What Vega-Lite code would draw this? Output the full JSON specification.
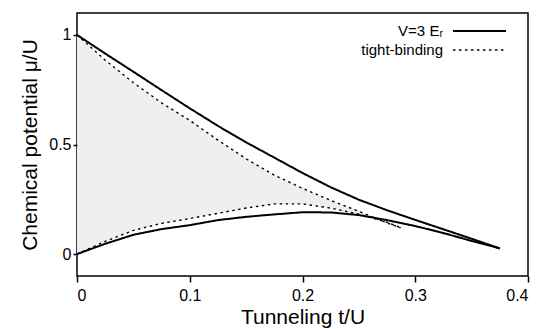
{
  "$schema": "https://vega.github.io/schema/vega-lite/v6.json",
  "width": 451,
  "height": 263,
  "autosize": {"type": "none"},
  "padding": {"left": 77, "top": 13, "right": 21, "bottom": 53},
  "background": "white",
  "config": {
    "font": "Liberation Sans",
    "view": {"stroke": "black", "strokeWidth": 1.5},
    "axis": {
      "grid": false,
      "domain": false,
      "labelColor": "black",
      "titleColor": "black",
      "labelFontSize": 16,
      "titleFontSize": 21,
      "titleFontWeight": "normal",
      "labelFont": "Liberation Sans",
      "titleFont": "Liberation Sans"
    },
    "legend": {
      "orient": "none",
      "legendX": 392.5,
      "legendY": 8,
      "labelFontSize": 15,
      "labelFont": "Liberation Sans",
      "labelColor": "black",
      "labelAlign": "right",
      "labelOffset": -46.5,
      "symbolType": "M-2.95,0H2.95",
      "symbolSize": 324,
      "symbolStrokeColor": "black",
      "symbolFillColor": "transparent",
      "rowPadding": 1,
      "padding": 0
    }
  },
  "datasets": {
    "lobe": [
      {"model": "V=3 E_R", "branch": "upper", "t": 0, "mu": 1},
      {"model": "V=3 E_R", "branch": "upper", "t": 0.025, "mu": 0.915},
      {"model": "V=3 E_R", "branch": "upper", "t": 0.05, "mu": 0.832},
      {"model": "V=3 E_R", "branch": "upper", "t": 0.075, "mu": 0.748},
      {"model": "V=3 E_R", "branch": "upper", "t": 0.1, "mu": 0.665},
      {"model": "V=3 E_R", "branch": "upper", "t": 0.125, "mu": 0.585},
      {"model": "V=3 E_R", "branch": "upper", "t": 0.15, "mu": 0.51},
      {"model": "V=3 E_R", "branch": "upper", "t": 0.175, "mu": 0.44},
      {"model": "V=3 E_R", "branch": "upper", "t": 0.2, "mu": 0.37},
      {"model": "V=3 E_R", "branch": "upper", "t": 0.225, "mu": 0.305},
      {"model": "V=3 E_R", "branch": "upper", "t": 0.25, "mu": 0.248},
      {"model": "V=3 E_R", "branch": "upper", "t": 0.275, "mu": 0.2},
      {"model": "V=3 E_R", "branch": "upper", "t": 0.3, "mu": 0.156},
      {"model": "V=3 E_R", "branch": "upper", "t": 0.325, "mu": 0.113},
      {"model": "V=3 E_R", "branch": "upper", "t": 0.35, "mu": 0.07},
      {"model": "V=3 E_R", "branch": "upper", "t": 0.375, "mu": 0.026},
      {"model": "V=3 E_R", "branch": "lower", "t": 0, "mu": 0},
      {"model": "V=3 E_R", "branch": "lower", "t": 0.025, "mu": 0.047},
      {"model": "V=3 E_R", "branch": "lower", "t": 0.05, "mu": 0.088},
      {"model": "V=3 E_R", "branch": "lower", "t": 0.075, "mu": 0.114},
      {"model": "V=3 E_R", "branch": "lower", "t": 0.1, "mu": 0.132},
      {"model": "V=3 E_R", "branch": "lower", "t": 0.125, "mu": 0.155},
      {"model": "V=3 E_R", "branch": "lower", "t": 0.15, "mu": 0.17},
      {"model": "V=3 E_R", "branch": "lower", "t": 0.175, "mu": 0.181},
      {"model": "V=3 E_R", "branch": "lower", "t": 0.2, "mu": 0.191},
      {"model": "V=3 E_R", "branch": "lower", "t": 0.225, "mu": 0.19},
      {"model": "V=3 E_R", "branch": "lower", "t": 0.25, "mu": 0.178},
      {"model": "V=3 E_R", "branch": "lower", "t": 0.275, "mu": 0.155},
      {"model": "V=3 E_R", "branch": "lower", "t": 0.3, "mu": 0.128},
      {"model": "V=3 E_R", "branch": "lower", "t": 0.325, "mu": 0.096},
      {"model": "V=3 E_R", "branch": "lower", "t": 0.35, "mu": 0.06},
      {"model": "V=3 E_R", "branch": "lower", "t": 0.375, "mu": 0.026},
      {"model": "tight-binding", "branch": "upper", "t": 0, "mu": 1},
      {"model": "tight-binding", "branch": "upper", "t": 0.025, "mu": 0.885},
      {"model": "tight-binding", "branch": "upper", "t": 0.05, "mu": 0.782},
      {"model": "tight-binding", "branch": "upper", "t": 0.075, "mu": 0.69},
      {"model": "tight-binding", "branch": "upper", "t": 0.1, "mu": 0.61},
      {"model": "tight-binding", "branch": "upper", "t": 0.125, "mu": 0.52},
      {"model": "tight-binding", "branch": "upper", "t": 0.15, "mu": 0.435},
      {"model": "tight-binding", "branch": "upper", "t": 0.175, "mu": 0.36},
      {"model": "tight-binding", "branch": "upper", "t": 0.2, "mu": 0.3},
      {"model": "tight-binding", "branch": "upper", "t": 0.225, "mu": 0.245},
      {"model": "tight-binding", "branch": "upper", "t": 0.25, "mu": 0.195},
      {"model": "tight-binding", "branch": "upper", "t": 0.275, "mu": 0.142},
      {"model": "tight-binding", "branch": "upper", "t": 0.287, "mu": 0.12},
      {"model": "tight-binding", "branch": "lower", "t": 0, "mu": 0},
      {"model": "tight-binding", "branch": "lower", "t": 0.025, "mu": 0.058},
      {"model": "tight-binding", "branch": "lower", "t": 0.05, "mu": 0.108},
      {"model": "tight-binding", "branch": "lower", "t": 0.075, "mu": 0.14},
      {"model": "tight-binding", "branch": "lower", "t": 0.1, "mu": 0.162},
      {"model": "tight-binding", "branch": "lower", "t": 0.125, "mu": 0.186},
      {"model": "tight-binding", "branch": "lower", "t": 0.15, "mu": 0.21},
      {"model": "tight-binding", "branch": "lower", "t": 0.175, "mu": 0.229},
      {"model": "tight-binding", "branch": "lower", "t": 0.2, "mu": 0.229},
      {"model": "tight-binding", "branch": "lower", "t": 0.225, "mu": 0.21},
      {"model": "tight-binding", "branch": "lower", "t": 0.25, "mu": 0.182},
      {"model": "tight-binding", "branch": "lower", "t": 0.275, "mu": 0.145},
      {"model": "tight-binding", "branch": "lower", "t": 0.287, "mu": 0.12}
    ]
  },
  "data": {"name": "lobe"},
  "layer": [
    {
      "transform": [
        {"filter": "datum.model === 'tight-binding'"},
        {"pivot": "branch", "value": "mu", "groupby": ["t"]}
      ],
      "mark": {"type": "area", "color": "#efefef"},
      "encoding": {
        "x": {"field": "t", "type": "quantitative", "scale": {"domain": [0, 0.4], "nice": false, "zero": false}, "axis": {"values": [0, 0.1, 0.2, 0.3, 0.4], "format": "~g", "title": "Tunneling t/U", "ticks": true, "tickSize": 6, "tickColor": "black", "tickWidth": 1.5, "labelPadding": 5, "titlePadding": 3, "zindex": 2}},
        "y": {"field": "lower", "type": "quantitative", "scale": {"domain": [-0.1, 1.1], "nice": false, "zero": false}, "axis": {"values": [0, 0.5, 1], "format": "~g", "title": "Chemical potential μ/U", "ticks": true, "tickSize": 4, "tickColor": "black", "tickWidth": 1.5, "labelPadding": 2, "titlePadding": 8, "zindex": 2}},
        "y2": {"field": "upper"}
      }
    },
    {
      "mark": {"type": "line", "color": "black"},
      "encoding": {
        "x": {"field": "t", "type": "quantitative", "scale": {"domain": [0, 0.4], "nice": false, "zero": false}, "axis": {"values": [0, 0.1, 0.2, 0.3, 0.4], "format": "~g", "title": "Tunneling t/U", "ticks": true, "tickSize": 6, "tickColor": "black", "tickWidth": 1.5, "labelPadding": 5, "titlePadding": 3, "zindex": 2}},
        "y": {"field": "mu", "type": "quantitative", "scale": {"domain": [-0.1, 1.1], "nice": false, "zero": false}, "axis": {"values": [0, 0.5, 1], "format": "~g", "title": "Chemical potential μ/U", "ticks": true, "tickSize": 4, "tickColor": "black", "tickWidth": 1.5, "labelPadding": 2, "titlePadding": 8, "zindex": 2}},
        "detail": {"field": "branch"},
        "strokeDash": {"field": "model", "type": "nominal", "scale": {"domain": ["V=3 E_R", "tight-binding"], "range": [[1, 0], [2.5, 3.5]]}, "legend": {"title": null, "labelExpr": "datum.label === 'V=3 E_R' ? 'V=3 Eᵣ' : datum.label"}},
        "strokeWidth": {"field": "model", "type": "nominal", "scale": {"domain": ["V=3 E_R", "tight-binding"], "range": [2, 1.4]}, "legend": {"title": null, "labelExpr": "datum.label === 'V=3 E_R' ? 'V=3 Eᵣ' : datum.label"}}
      }
    }
  ]
}
